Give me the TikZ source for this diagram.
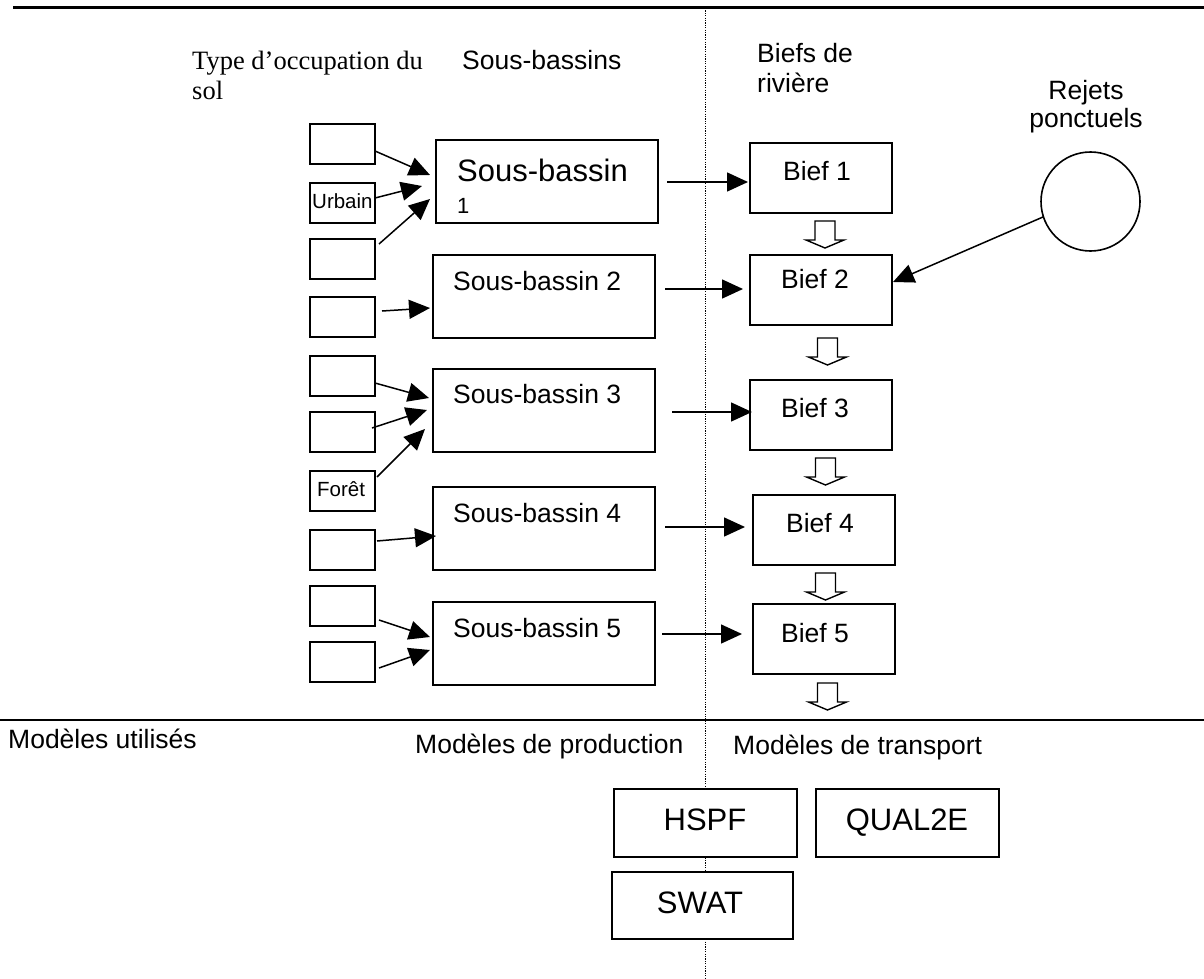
\documentclass[tikz,border=0pt]{standalone}
\usepackage{fontspec}
\setmainfont{Liberation Sans}
\newfontfamily\timesf{Liberation Serif}
\usetikzlibrary{arrows.meta}
\begin{document}
\begin{tikzpicture}[x=1pt,y=-1pt,
  box/.style={draw, line width=1.8pt, fill=white, inner sep=0pt, outer sep=0pt},
  lu/.style={box, minimum width=65pt, minimum height=40pt},
  sb/.style={box, minimum width=222pt, minimum height=83pt},
  bf/.style={box, minimum width=142pt, minimum height=70pt},
  md/.style={box, minimum width=183pt, minimum height=68pt},
  txt/.style={inner sep=0pt, anchor=base west, font=\fontsize{26.5}{30}\selectfont},
  ctxt/.style={inner sep=0pt, anchor=base, font=\fontsize{26.5}{30}\selectfont},
  big/.style={inner sep=0pt, anchor=base, font=\fontsize{31}{36}\selectfont},
  small/.style={inner sep=0pt, anchor=base west, font=\fontsize{20.5}{24}\selectfont},
  arr/.style={line width=1.5pt, -{Triangle[length=21pt,width=19pt]}},
  blk/.pic={\draw[line width=1.4pt, fill=white] (-10,0) -- (10,0) -- (10,19) -- (19,19) -- (0,27) -- (-19,19) -- (-10,19) -- cycle;}
]
\useasboundingbox (0,0) rectangle (1204,979);
% frame lines
\draw[line width=2.4pt] (13,7.5) -- (1204,7.5);
\draw[line width=2pt] (0,720) -- (1204,720);
\draw[line width=1pt, dash pattern=on 1.2pt off 1.2pt] (705,8) -- (705,979);

% headers
\node[txt, font=\timesf\fontsize{26.5}{30}\selectfont] at (192,70) {Type d’occupation du};
\node[txt, font=\timesf\fontsize{26.5}{30}\selectfont] at (192,100) {sol};
\node[txt] at (462,70) {Sous-bassins};
\node[txt] at (757,63) {Biefs de};
\node[txt] at (757,93) {rivière};
\node[ctxt] at (1086,100) {Rejets};
\node[ctxt] at (1086,128) {ponctuels};

% land use boxes
\node[lu] (l1) at (342.5,144) {};
\node[lu] (l2) at (342.5,203) {};
\node[lu] (l3) at (342.5,259) {};
\node[lu] (l4) at (342.5,317) {};
\node[lu] (l5) at (342.5,376) {};
\node[lu] (l6) at (342.5,432) {};
\node[lu] (l7) at (342.5,491) {};
\node[lu] (l8) at (342.5,550) {};
\node[lu] (l9) at (342.5,606) {};
\node[lu] (l10) at (342.5,662) {};
\node[small] at (312,208) {Urbain};
\node[small] at (317,496) {Forêt};

% sub-basins
\node[sb] (sb1) at (547,181.5) {};
\node[sb] (sb2) at (544,296.5) {};
\node[sb] (sb3) at (544,410.5) {};
\node[sb] (sb4) at (544,528.5) {};
\node[sb] (sb5) at (544,643.5) {};
\node[inner sep=0pt, anchor=base west, font=\fontsize{31}{36}\selectfont] at (457,181) {Sous-bassin};
\node[inner sep=0pt, anchor=base west, font=\fontsize{22}{26}\selectfont] at (457,213) {1};
\node[txt] at (453,290) {Sous-bassin 2};
\node[txt] at (453,403) {Sous-bassin 3};
\node[txt] at (453,522) {Sous-bassin 4};
\node[txt] at (453,637) {Sous-bassin 5};

% reaches
\node[bf] (b1) at (821,178) {};
\node[bf] (b2) at (821,290) {};
\node[bf] (b3) at (821,415) {};
\node[bf] (b4) at (824,530) {};
\node[bf] (b5) at (824,639) {};
\node[ctxt] at (817,180) {Bief 1};
\node[ctxt] at (815,288) {Bief 2};
\node[ctxt] at (815,417) {Bief 3};
\node[ctxt] at (820,532) {Bief 4};
\node[ctxt] at (815,642) {Bief 5};

% point source
\node[draw, circle, line width=1.6pt, minimum size=99pt, inner sep=0pt, outer sep=0pt] (rp) at (1090.5,201.5) {};

% arrows land use -> sub-basins
\draw[arr] ([shift={(0,7)}]l1.east) -- ([shift={(-6,-6.5)}]sb1.west);
\draw[arr] ([shift={(0,-5)}]l2.east) -- ([shift={(-14,4.5)}]sb1.west);
\draw[arr] ([shift={(4,-15)}]l3.east) -- ([shift={(-6,17.5)}]sb1.west);
\draw[arr] ([shift={(7,-6)}]l4.east) -- ([shift={(-3,11.5)}]sb2.west);
\draw[arr] ([shift={(0,7)}]l5.east) -- ([shift={(-4,-12.5)}]sb3.west);
\draw[arr] ([shift={(-3,-4)}]l6.east) -- ([shift={(-6,-0.5)}]sb3.west);
\draw[arr] ([shift={(2,-14)}]l7.east) -- ([shift={(-8,18.5)}]sb3.west);
\draw[arr] ([shift={(2,-9)}]l8.east) -- ([shift={(3,7.5)}]sb4.west);
\draw[arr] ([shift={(4,14)}]l9.east) -- ([shift={(-3,-6.5)}]sb5.west);
\draw[arr] ([shift={(4,6)}]l10.east) -- ([shift={(-3,6.5)}]sb5.west);

% arrows sub-basins -> reaches
\draw[arr] ([shift={(9,0.5)}]sb1.east) -- ([shift={(-2,4)}]b1.west);
\draw[arr] ([shift={(10,-7.5)}]sb2.east) -- ([shift={(-7,-1)}]b2.west);
\draw[arr] ([shift={(17,1.5)}]sb3.east) -- ([shift={(2,-3)}]b3.west);
\draw[arr] ([shift={(10,-1.5)}]sb4.east) -- ([shift={(-8,-3)}]b4.west);
\draw[arr] ([shift={(7,-9.5)}]sb5.east) -- ([shift={(-11,-5)}]b5.west);

% point source -> reach 2
\draw[arr] (rp.198) -- ([shift={(1,-8)}]b2.east);

% block arrows between reaches
\pic at (825,221) {blk};
\pic at (827.5,338) {blk};
\pic at (825.5,458) {blk};
\pic at (825.5,573) {blk};
\pic at (827.5,683) {blk};

% bottom section
\node[txt] at (8,748) {Modèles utilisés};
\node[txt] at (415,753) {Modèles de production};
\node[txt] at (733,754) {Modèles de transport};
\node[md] (hspf) at (705.5,823) {};
\node[md] (qual) at (907.5,823) {};
\node[md, minimum width=181pt, minimum height=67pt] (swat) at (702.5,905.5) {};
\node[big] at (705,830) {HSPF};
\node[big] at (907,830) {QUAL2E};
\node[big] at (700,913) {SWAT};
\end{tikzpicture}
\end{document}
